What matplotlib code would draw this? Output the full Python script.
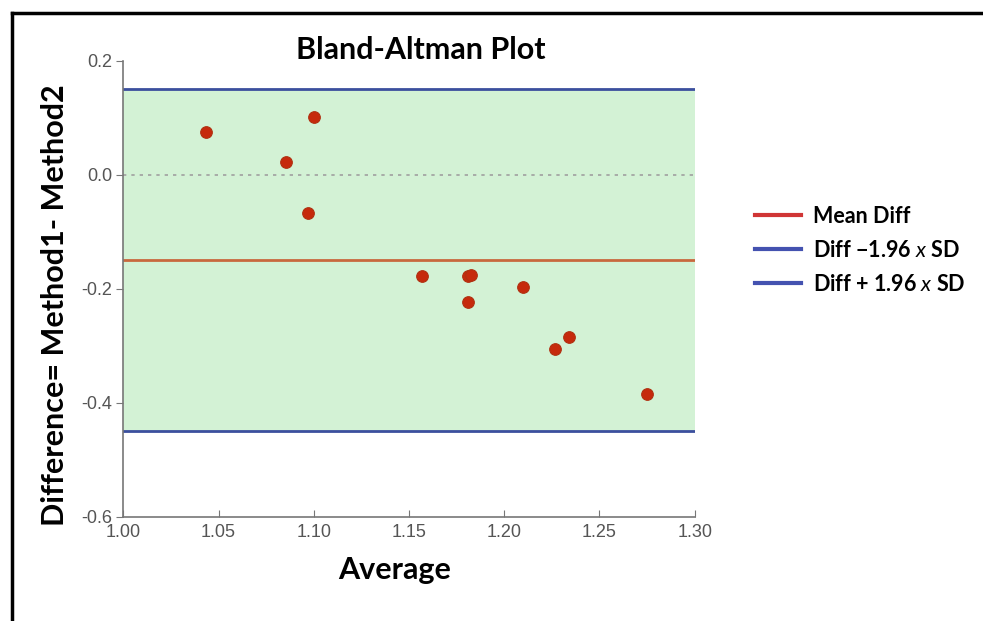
import matplotlib
matplotlib.use("Agg")
import matplotlib.pyplot as plt
from matplotlib.lines import Line2D

# Data
average = [1.0436, 1.1000, 1.0854, 1.0970, 1.1567, 1.1811, 1.1824, 1.1811, 1.2100, 1.2342, 1.2266, 1.2751]
difference = [0.076, 0.101, 0.022, -0.066, -0.178, -0.178, -0.175, -0.223, -0.197, -0.284, -0.306, -0.385]
mean_diff = -0.149
upper_loa = 0.151
lower_loa = -0.450
x_ticks = [1.00, 1.05, 1.10, 1.15, 1.20, 1.25, 1.30]
y_ticks = [-0.6, -0.4, -0.2, 0.0, 0.2]
legend_labels = ["Mean Diff", "Diff \u22121.96 $x$ SD", "Diff + 1.96 $x$ SD"]

plt.rcParams['mathtext.fontset'] = 'custom'
plt.rcParams['mathtext.it'] = 'Lato:italic'
plt.rcParams['mathtext.rm'] = 'Lato:bold'

fig = plt.figure(figsize=(9.83, 6.21), dpi=100)
ax = fig.add_axes([0.1254, 0.1675, 0.5813, 0.7343])

ax.set_xlim(1.0, 1.30)
ax.set_ylim(-0.6, 0.2)

ax.axhspan(lower_loa, upper_loa, xmin=0, xmax=1, color='#d3f2d5', zorder=0)
ax.axhline(upper_loa, color='#3b4f9e', lw=2, zorder=2)
ax.axhline(lower_loa, color='#3b4f9e', lw=2, zorder=2)
ax.axhline(mean_diff, color='#c8693e', lw=2, zorder=2)
ax.axhline(0.0, color='#a0a0a0', lw=1.2, ls=(0, (2, 3)), zorder=1)

ax.scatter(average, difference, s=70, color='#c62a0c', edgecolor='#b03010', linewidth=0.8, zorder=3)

for s in ['top', 'right']:
    ax.spines[s].set_visible(False)
for s in ['left', 'bottom']:
    ax.spines[s].set_color('#777777')
    ax.spines[s].set_linewidth(1.2)

ax.set_xticks(x_ticks)
ax.set_xticklabels([f"{v:.2f}" for v in x_ticks])
ax.set_yticks(y_ticks)
ax.set_yticklabels([f"{v:.1f}" for v in y_ticks])
ax.tick_params(axis='x', direction='in', length=5, color='#777777', labelcolor='#555555',
               labelsize=13, pad=5)
ax.tick_params(axis='y', direction='out', length=5, color='#777777', labelcolor='#555555',
               labelsize=13, pad=3)
for lbl in ax.get_xticklabels() + ax.get_yticklabels():
    lbl.set_fontfamily('Liberation Sans')

fig.text(421 / 983, 1 - 50 / 621, "Bland-Altman Plot", fontfamily='Lato', fontweight='bold',
         fontsize=22, ha='center', va='center')
fig.text(395 / 983, 1 - 570 / 621, "Average", fontfamily='Lato', fontweight='bold',
         fontsize=22, ha='center', va='center')
fig.text(55 / 983, 1 - 305 / 621, "Difference= Method1- Method2", fontfamily='Lato',
         fontweight='bold', fontsize=22, ha='center', va='center', rotation=90)

handles = [Line2D([0], [0], color='#d03535', lw=3),
           Line2D([0], [0], color='#4452b0', lw=3),
           Line2D([0], [0], color='#4452b0', lw=3)]
leg = fig.legend(handles, legend_labels, loc='upper left', bbox_to_anchor=(0.748, 0.70),
                 frameon=False, handlelength=2.15, handletextpad=0.55, labelspacing=0.6,
                 prop={'family': 'Lato', 'weight': 'bold', 'size': 15.5})

# Figure border (top and left)
fig.add_artist(Line2D([12 / 983, 1.0], [1 - 13 / 621, 1 - 13 / 621], transform=fig.transFigure,
                      color='black', lw=2.5))
fig.add_artist(Line2D([12 / 983, 12 / 983], [0.0, 1 - 13 / 621], transform=fig.transFigure,
                      color='black', lw=2.5))

fig.savefig("out.png", dpi=100)
